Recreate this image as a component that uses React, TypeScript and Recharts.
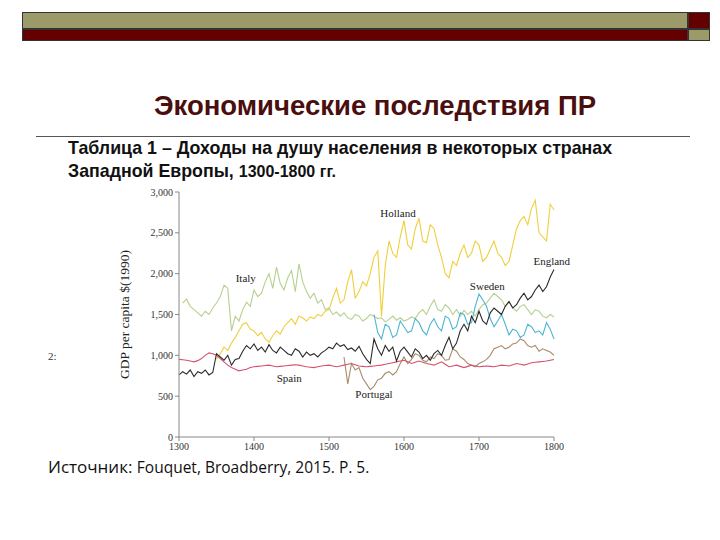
import { LineChart, Line, XAxis, YAxis, ReferenceDot } from 'recharts';

const years = [
  1300, 1305, 1310, 1315, 1320, 1325, 1330, 1335, 1340, 1345,
  1350, 1355, 1360, 1365, 1370, 1375, 1380, 1385, 1390, 1395,
  1400, 1405, 1410, 1415, 1420, 1425, 1430, 1435, 1440, 1445,
  1450, 1455, 1460, 1465, 1470, 1475, 1480, 1485, 1490, 1495,
  1500, 1505, 1510, 1515, 1520, 1525, 1530, 1535, 1540, 1545,
  1550, 1555, 1560, 1565, 1570, 1575, 1580, 1585, 1590, 1595,
  1600, 1605, 1610, 1615, 1620, 1625, 1630, 1635, 1640, 1645,
  1650, 1655, 1660, 1665, 1670, 1675, 1680, 1685, 1690, 1695,
  1700, 1705, 1710, 1715, 1720, 1725, 1730, 1735, 1740, 1745,
  1750, 1755, 1760, 1765, 1770, 1775, 1780, 1785, 1790, 1795,
  1800,
];

const england = [
  760, 800, 770, 820, 740, 800, 780, 820, 760, 790,
  1020, 980, 940, 1000, 880, 950, 960, 1050, 1120, 1080,
  1140, 1060, 1100, 1040, 1130, 1060, 1030, 1100, 1060, 1020,
  1000, 1080, 1050, 980, 1040, 1000, 1020, 980, 1030, 1060,
  1100, 1080, 1150, 1110, 1130, 1070, 1090, 1050, 1110, 1020,
  950, 900, 1200, 1080, 1000, 1120, 1050, 1100, 930, 1050,
  1100, 1040, 980, 1080, 1040, 960, 1000, 940, 1020, 1060,
  1000, 1120, 1220, 1080, 1150, 1300, 1380, 1300, 1480, 1400,
  1540, 1420, 1380, 1520, 1580, 1540, 1500, 1600, 1660, 1580,
  1620, 1700, 1760, 1680, 1720, 1800, 1860, 1780, 1840, 1960,
  2050,
];

const italy = [
  null, 1640, 1690, 1600, 1560, 1520, 1480, 1540, 1500, 1580,
  1640, 1720, 1860, 1820, 1300, 1480, 1420, 1560, 1650, 1600,
  1800, 1720, 1760, 1900, 2000, 1820, 2080, 1880, 1800, 1950,
  2040, 1780, 2120, 1900, 1780, 1700, 1760, 1640, 1680, 1560,
  1580, 1500, 1530, 1480, 1520, 1460, 1440, 1500, 1480, 1420,
  1450, 1500, 1480, 1450, 1460, 1410, 1440, 1480, 1430, 1460,
  1420, 1440, 1470, 1450, 1520, 1560, 1500, 1600, 1680, 1560,
  1540, 1620, 1580, 1500, 1560, 1480, 1550, 1500, 1540, 1480,
  1560, 1620, 1640, 1700, 1760, 1720, 1680, 1600, 1650, 1580,
  1540, 1600, 1620, 1560, 1500, 1560, 1540, 1480, 1460, 1500,
  1470,
];

const holland = [
  null, null, null, null, null, null, null, null, null, null,
  950, 1020, 1100, 1060, 1150, 1220, 1300, 1380, 1400, 1320,
  1300, 1240, 1280, 1200, 1160, 1240, 1300, 1260, 1350, 1400,
  1450, 1380, 1480, 1460, 1420, 1470, 1450, 1500, 1480, 1540,
  1560, 1700, 1820, 1640, 1680, 1900, 2050, 1700, 1780, 1900,
  1850, 2000, 2200, 2280, 1480, 2100, 2400, 2250, 2200, 2450,
  2650, 2350, 2300, 2550, 2680, 2400, 2380, 2600, 2550, 2350,
  2200, 2000, 1950, 2150, 2100, 2250, 2350, 2200, 2250, 2400,
  2350, 2150, 2200, 2300, 2400, 2250, 2200, 2100, 2150, 2350,
  2550, 2650, 2700, 2600, 2800, 2900, 2500, 2450, 2400, 2850,
  2780,
];

const sweden = [
  null, null, null, null, null, null, null, null, null, null,
  null, null, null, null, null, null, null, null, null, null,
  null, null, null, null, null, null, null, null, null, null,
  null, null, null, null, null, null, null, null, null, null,
  null, null, null, null, null, null, null, null, null, null,
  null, null, 1500, 1280, 1200, 1380, 1350, 1220, 1250, 1420,
  1350, 1280, 1300, 1450, 1400, 1300, 1250, 1380, 1450, 1350,
  1300, 1480, 1450, 1320, 1350, 1520, 1500, 1380, 1400, 1600,
  1750, 1680, 1600, 1450, 1350, 1420, 1500, 1380, 1250, 1320,
  1300, 1220, 1250, 1380, 1350, 1280, 1300, 1250, 1400, 1320,
  1200,
];

const spain = [
  950, 945, 940, 930, 920, 935, 960, 1000, 1030, 1020,
  1000, 960, 920, 880, 850, 830, 810, 820, 830, 850,
  860, 865, 870, 875, 880, 870, 860, 865, 870, 875,
  880, 885, 880, 870, 860, 855, 850, 860, 870, 875,
  880, 870, 860, 870, 880, 890, 900, 885, 870, 865,
  860, 865, 870, 875, 880, 890, 900, 910, 920, 930,
  940, 920, 900, 915, 930, 915, 900, 890, 880, 900,
  920, 890, 860, 870, 880, 865, 850, 865, 880, 870,
  860, 865, 870, 865, 860, 870, 880, 875, 870, 885,
  900, 890, 880, 895, 910, 915, 920, 925, 930, 940,
  950,
];

const portugal = [
  null, null, null, null, null, null, null, null, null, null,
  null, null, null, null, null, null, null, null, null, null,
  null, null, null, null, null, null, null, null, null, null,
  null, null, null, null, null, null, null, null, null, null,
  null, null, null, null, 980, 650, 900, 820, 850, 720,
  650, 580, 620, 700, 720, 780, 800, 760, 800, 900,
  980, 900, 950, 1020, 1000, 940, 920, 980, 960, 1020,
  1000, 940, 950, 1080, 1050, 980, 950, 900, 880, 860,
  900, 920, 950, 1000, 1080, 1100, 1120, 1080, 1100, 1140,
  1150, 1200, 1180, 1120, 1100, 1120, 1050, 1080, 1060, 1040,
  1000,
];

const xTicks = [1300, 1400, 1500, 1600, 1700, 1800];
const yTicks = [0, 500, 1000, 1500, 2000, 2500, 3000];

const countryLabels = [
  { name: 'Italy', year: 1389, value: 1947 },
  { name: 'Holland', year: 1592, value: 2743 },
  { name: 'England', year: 1797, value: 2155 },
  { name: 'Sweden', year: 1711, value: 1849 },
  { name: 'Spain', year: 1447, value: 722 },
  { name: 'Portugal', year: 1560, value: 527 },
];

const data = years.map((year, i) => ({
  year,
  england: england[i],
  italy: italy[i],
  holland: holland[i],
  sweden: sweden[i],
  spain: spain[i],
  portugal: portugal[i],
}));

const serif = '"Liberation Serif", "Times New Roman", serif';

export default function App() {
  return (
    <div
      style={{
        position: 'absolute',
        left: 0,
        top: 0,
        width: 720,
        height: 540,
        background: '#fff',
        overflow: 'hidden',
      }}
    >
      {/* header bars */}
      <div style={{ position: 'absolute', left: 22, top: 12, width: 666, height: 17, background: '#9c9a68', border: '1px solid #333', boxSizing: 'border-box' }} />
      <div style={{ position: 'absolute', left: 22, top: 29, width: 666, height: 12, background: '#650000', border: '1px solid #333', boxSizing: 'border-box' }} />
      <div style={{ position: 'absolute', left: 688, top: 12, width: 22, height: 17, background: '#650000', border: '1px solid #333', boxSizing: 'border-box' }} />
      <div style={{ position: 'absolute', left: 688, top: 29, width: 22, height: 12, background: '#9c9a68', border: '1px solid #333', boxSizing: 'border-box' }} />

      <div
        style={{
          position: 'absolute',
          left: 0,
          width: 750,
          top: 90,
          textAlign: 'center',
          fontFamily: '"Liberation Sans", Arial, sans-serif',
          fontWeight: 'bold',
          fontSize: 27.5,
          color: '#4a0e0e',
        }}
      >
        Экономические последствия ПР
      </div>
      <div style={{ position: 'absolute', left: 36, top: 136, width: 654, height: 1, background: '#555' }} />

      <div
        style={{
          position: 'absolute',
          left: 68,
          top: 137,
          fontFamily: '"Liberation Sans", Arial, sans-serif',
          fontWeight: 'bold',
          fontSize: 17.8,
          lineHeight: '23px',
          color: '#111',
        }}
      >
        Таблица 1 – Доходы на душу населения в некоторых странах
        <br />
        Западной Европы, <span style={{ fontSize: 16 }}>1300-1800 гг.</span>
      </div>

      <div style={{ position: 'absolute', left: 48, top: 350, fontFamily: serif, fontSize: 11, color: '#333' }}>2:</div>

      <div
        style={{
          position: 'absolute',
          left: 48,
          top: 455,
          fontFamily: '"Open Sans", "Liberation Sans", sans-serif',
          fontSize: 15.5,
          color: '#111',
        }}
      >
        <span style={{ fontSize: 17 }}>Источник: </span>Fouquet, Broadberry, 2015. P. 5.
      </div>

      <div style={{ position: 'absolute', left: 100, top: 180 }}>
        <LineChart
          width={470}
          height={290}
          data={data}
          margin={{ top: 12, right: 16, left: 0, bottom: 13 }}
        >
          <XAxis
            dataKey="year"
            type="number"
            domain={[1300, 1800]}
            ticks={xTicks}
            height={20}
            tickSize={4}
            stroke="#888"
            tick={{ fontFamily: serif, fontSize: 10, fill: '#333' }}
          />
          <YAxis
            type="number"
            domain={[0, 3000]}
            ticks={yTicks}
            width={79}
            tickSize={4}
            stroke="#888"
            tickFormatter={(v) => v.toLocaleString('en-US')}
            tick={{ fontFamily: serif, fontSize: 10, fill: '#333' }}
            label={{
              value: 'GDP per capita $(1990)',
              angle: -90,
              position: 'center',
              dx: -15,
              style: { fontFamily: serif, fontSize: 13.5, fill: '#222' },
            }}
          />
          <Line type="linear" dataKey="holland" stroke="#f0cf3c" strokeWidth={1.1} dot={false} isAnimationActive={false} />
          <Line type="linear" dataKey="italy" stroke="#b7d08e" strokeWidth={1.1} dot={false} isAnimationActive={false} />
          <Line type="linear" dataKey="sweden" stroke="#4cb6d4" strokeWidth={1.1} dot={false} isAnimationActive={false} />
          <Line type="linear" dataKey="portugal" stroke="#a88b6c" strokeWidth={1.1} dot={false} isAnimationActive={false} />
          <Line type="linear" dataKey="spain" stroke="#d4526c" strokeWidth={1.1} dot={false} isAnimationActive={false} />
          <Line type="linear" dataKey="england" stroke="#2a2a2a" strokeWidth={1.1} dot={false} isAnimationActive={false} />
          {countryLabels.map((c) => (
            <ReferenceDot
              key={c.name}
              x={c.year}
              y={c.value}
              r={0}
              fill="none"
              stroke="none"
              label={{
                value: c.name,
                position: 'center',
                style: { fontFamily: serif, fontSize: 11, fill: '#222' },
              }}
            />
          ))}
        </LineChart>
      </div>
    </div>
  );
}
